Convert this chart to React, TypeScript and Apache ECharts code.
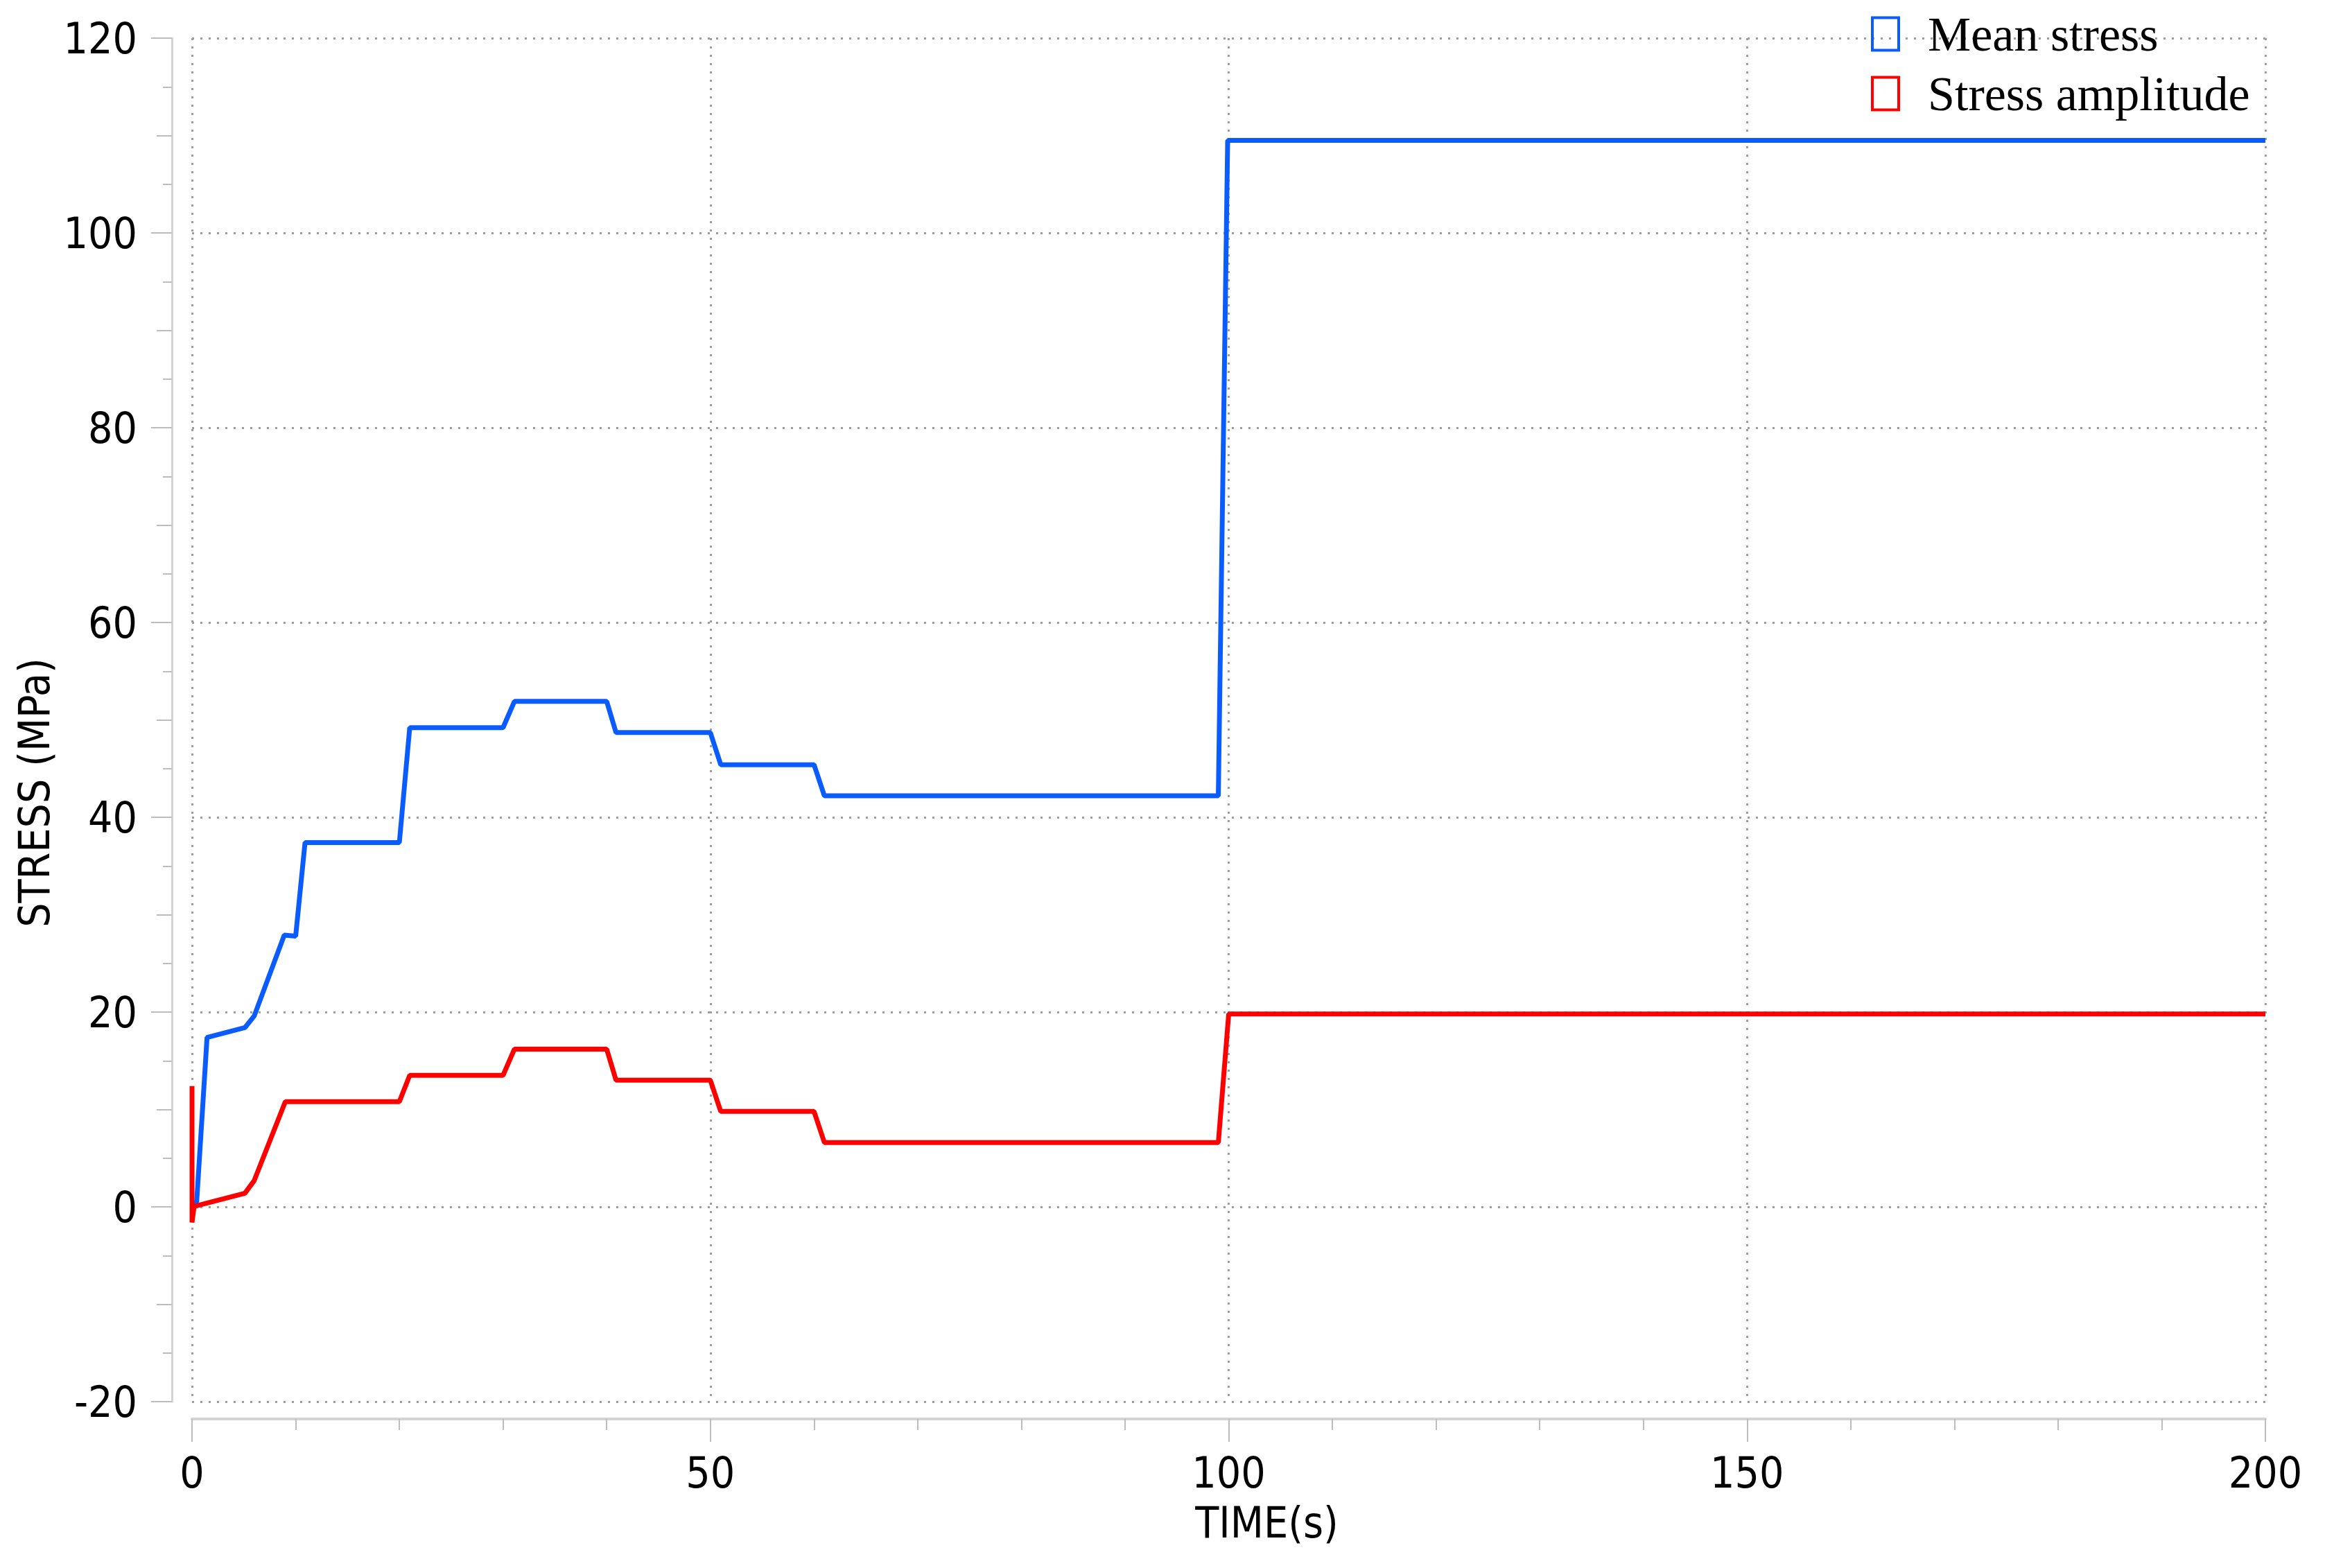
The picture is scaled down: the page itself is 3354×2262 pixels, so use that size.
import { useEffect, useRef } from "react";
import * as echarts from "echarts";

// time (s) and stress (MPa)
const MEAN_TIME = [0, 0.45, 1.45, 5.1, 6.0, 8.9, 10.0, 10.9, 20.0, 21.0, 30.0, 31.1, 40.0, 40.9, 50.0, 51.0, 60.0, 61.0, 99.0, 99.9, 200];
const MEAN_STRESS = [0.2, 0.5, 17.4, 18.4, 19.6, 27.9, 27.8, 37.4, 37.4, 49.2, 49.2, 51.9, 51.9, 48.7, 48.7, 45.4, 45.4, 42.2, 42.2, 109.5, 109.5];

const AMP_TIME = [0, 0, 0.2, 5.1, 6.0, 9.0, 20.0, 21.0, 30.0, 31.1, 40.0, 40.9, 50.0, 51.0, 60.0, 61.0, 99.0, 100.0, 200];
const AMP_STRESS = [12.4, -1.6, 0.05, 1.4, 2.7, 10.8, 10.8, 13.5, 13.5, 16.2, 16.2, 13.0, 13.0, 9.8, 9.8, 6.6, 6.6, 19.8, 19.8];

const SERIES_NAMES = ["Mean stress", "Stress amplitude"];
const COLORS = ["#0a5cff", "#ff0000"];

const X_MIN = 0, X_MAX = 200, X_STEP = 50;
const Y_MIN = -20, Y_MAX = 120, Y_STEP = 20;

const SANS = "'DejaVu Sans Condensed', 'Liberation Sans', sans-serif";
const SERIF = "'Liberation Serif', 'Times New Roman', serif";

const AXIS_GREY = "#d4d4d4";
const TICK_GREY = "#bdbdbd";
const GRID_GREY = "#9e9e9e";

export default function App() {
  const chartRef = useRef<HTMLDivElement>(null);

  useEffect(() => {
    if (!chartRef.current) return;
    const chart = echarts.init(chartRef.current, null, { renderer: "svg" });

    const zip = (xs: number[], ys: number[]) => xs.map((x, i) => [x, ys[i]]);
    const splitLine = {
      show: true,
      lineStyle: { color: GRID_GREY, width: 3, type: [3, 9] },
    };

    chart.setOption({
      animation: false,
      backgroundColor: "#fff",
      grid: { left: 277, right: 86, top: 55, bottom: 240 },
      legend: {
        orient: "vertical",
        left: 2694,
        top: 9,
        itemWidth: 38,
        itemHeight: 47,
        itemGap: 16,
        icon: "rect",
        textStyle: {
          fontFamily: SERIF,
          fontSize: 70,
          color: "#000",
          padding: [0, 0, 0, 37],
        },
        data: SERIES_NAMES.map((name, i) => ({
          name,
          itemStyle: { color: "rgba(255,255,255,0)", borderColor: COLORS[i], borderWidth: 4 },
        })),
      },
      xAxis: {
        type: "value",
        min: X_MIN,
        max: X_MAX,
        interval: X_STEP,
        offset: 25,
        name: "TIME(s)",
        nameLocation: "middle",
        nameGap: 118,
        nameTextStyle: { fontFamily: SANS, fontSize: 62, color: "#000", padding: [0, 0, 0, 110] },
        axisLine: { show: true, onZero: false, lineStyle: { color: AXIS_GREY, width: 4 } },
        axisTick: { show: true, length: 33, lineStyle: { color: TICK_GREY, width: 2 } },
        minorTick: { show: true, splitNumber: 5, length: 16, lineStyle: { color: TICK_GREY, width: 2 } },
        axisLabel: { margin: 46, fontFamily: SANS, fontSize: 62, color: "#000" },
        splitLine,
      },
      yAxis: [
        {
          type: "value",
          min: Y_MIN,
          max: Y_MAX,
          interval: Y_STEP,
          offset: 29,
          name: "STRESS (MPa)",
          nameLocation: "middle",
          nameGap: 160,
          nameTextStyle: { fontFamily: SANS, fontSize: 62, color: "#000", padding: [0, 210, 0, 0] },
          axisLine: { show: true, onZero: false, lineStyle: { color: AXIS_GREY, width: 3 } },
          axisTick: { show: true, length: 30, lineStyle: { color: TICK_GREY, width: 2 } },
          minorTick: { show: true, splitNumber: 4, length: 13, lineStyle: { color: TICK_GREY, width: 2 } },
          axisLabel: { margin: 50, fontFamily: SANS, fontSize: 62, color: "#000" },
          splitLine,
        },
        {
          // middle ticks every 10
          type: "value",
          min: Y_MIN,
          max: Y_MAX,
          interval: 10,
          offset: 29,
          position: "left",
          axisLine: { show: false, onZero: false },
          axisTick: { show: true, length: 22, lineStyle: { color: TICK_GREY, width: 2 } },
          axisLabel: { show: false },
          splitLine: { show: false },
        },
      ],
      series: [
        {
          name: SERIES_NAMES[0],
          type: "line",
          data: zip(MEAN_TIME, MEAN_STRESS),
          showSymbol: false,
          symbol: "none",
          lineStyle: { color: COLORS[0], width: 7 },
          itemStyle: { color: COLORS[0] },
        },
        {
          name: SERIES_NAMES[1],
          type: "line",
          data: zip(AMP_TIME, AMP_STRESS),
          showSymbol: false,
          symbol: "none",
          lineStyle: { color: COLORS[1], width: 7 },
          itemStyle: { color: COLORS[1] },
        },
      ],
    });

    return () => chart.dispose();
  }, []);

  return (
    <div
      ref={chartRef}
      style={{ position: "absolute", left: 0, top: 0, width: 3354, height: 2262 }}
    />
  );
}
